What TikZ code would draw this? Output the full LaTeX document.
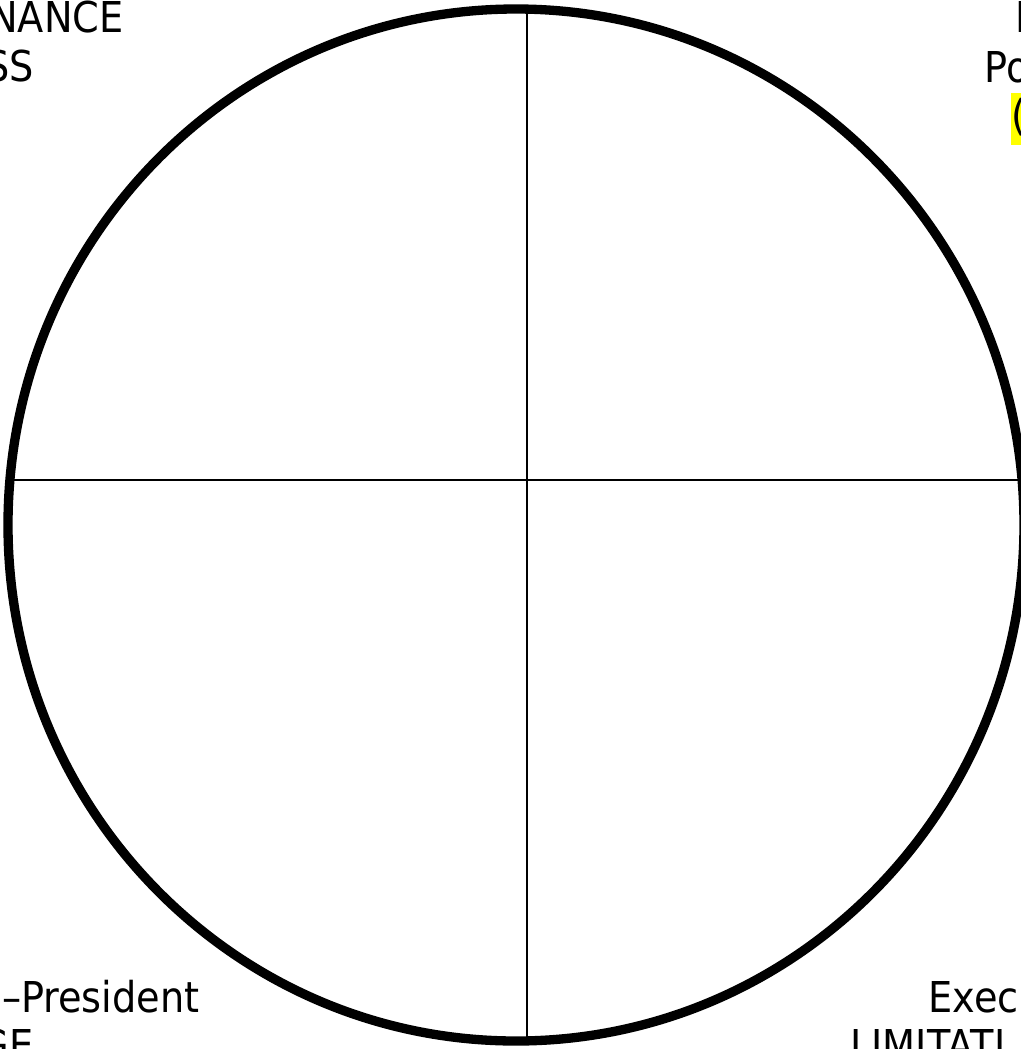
\documentclass[tikz,border=0pt]{standalone}
\usepackage{fontspec}
\setmainfont{DejaVu Sans}[FakeStretch=0.9]
\usepackage{tikz}
\usetikzlibrary{positioning,calc}
\definecolor{ink}{HTML}{000000}
\definecolor{marker}{HTML}{FFFF00}
\tikzset{
  rim/.style={draw=ink, line width=5.3pt},
  divider/.style={draw=ink, line width=1.4pt},
  quadlabel/.style={inner sep=0pt, text=ink, font=\fontsize{24.2}{28}\selectfont},
  highlight/.style={quadlabel, fill=marker, text height=0.74cm, text depth=0.3cm}
}
\begin{document}
\begin{tikzpicture}[x=0.02cm,y=-0.02cm]
\useasboundingbox (0,0) rectangle (1021,1049);
% outer ring
\draw[rim] (516,525) ellipse [x radius=508, y radius=516];
% dividing lines
\coordinate (north) at (527,9);
\coordinate (south) at (527,1041);
\coordinate (west) at (10,480);
\coordinate (east) at (1022,480);
\draw[divider] (north) -- (south);
\draw[divider] (west) -- (east);
% top left
\node[quadlabel,anchor=base east] (tlone) at (124,32) {NANCE};
\node[quadlabel,anchor=base east] (tltwo) at (34,81) {SS};
% top right
\node[quadlabel,anchor=base west] (trone) at (1015,32) {E};
\node[quadlabel,anchor=base west] (trtwo) at (984,82) {Po};
\node[highlight,anchor=base west] (trthree) at (1011,130) {(};
% bottom left
\node[quadlabel,anchor=base east] (blone) at (200,1012) {–President};
\node[quadlabel,anchor=base east] (bltwo) at (34,1060) {GE};
% bottom right
\node[quadlabel,anchor=base west] (brone) at (928,1012) {Execu};
\node[quadlabel,anchor=base west] (brtwo) at (850,1060) {LIMITATI};
\end{tikzpicture}
\end{document}
